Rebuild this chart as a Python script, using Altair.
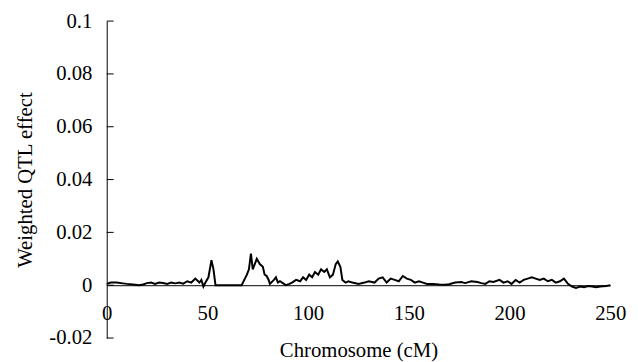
import altair as alt
import pandas as pd

cm = [0, 2, 5, 8, 10, 13, 16, 18, 20, 22, 24, 26, 28, 30, 32, 34, 36, 38, 40, 42,
      44, 46, 47, 48, 49, 50.5, 52, 53, 54, 60, 67, 67.6, 69.6, 70.6, 71.6, 72.5,
      73.5, 74.5, 76, 77.5, 78.4, 79.4, 80.4, 81, 83, 84, 85, 86, 88, 89, 90.7, 92,
      94, 96, 97.5, 99, 100.5, 102, 103.4, 105, 106.4, 108, 109.3, 110.8, 112.3,
      113.7, 114.7, 116, 117, 118.6, 120, 122, 125, 128, 130, 133, 135, 137, 139,
      141, 143, 145, 147, 149, 151, 153, 155, 157, 159, 162, 165, 168, 170, 173,
      176, 178, 181, 184, 186, 188, 190, 192, 195, 197, 199, 201, 203, 205, 207,
      209, 211, 213, 215, 217, 219, 221, 223, 225, 227, 229, 231, 233, 235, 237,
      239, 241, 243, 245, 248, 250]
effect = [0.0005, 0.001, 0.001, 0.0007, 0.0005, 0.0003, 0.0, 0.0003, 0.0008, 0.001,
          0.0005, 0.001, 0.0008, 0.0005, 0.001, 0.0007, 0.001, 0.0006, 0.0015, 0.001,
          0.0025, 0.001, 0.002, -0.0005, 0.001, 0.003, 0.0095, 0.006, 0.0, 0.0, 0.0,
          0.001, 0.004, 0.006, 0.012, 0.006, 0.008, 0.010, 0.008, 0.007, 0.004,
          0.0035, 0.002, 0.0005, 0.002, 0.003, 0.001, 0.0015, 0.0005, 0.0, 0.0005,
          0.001, 0.002, 0.0015, 0.003, 0.002, 0.004, 0.003, 0.005, 0.004, 0.006,
          0.005, 0.006, 0.003, 0.004, 0.008, 0.009, 0.007, 0.002, 0.001, 0.0015,
          0.001, 0.0005, 0.001, 0.0015, 0.001, 0.0025, 0.003, 0.001, 0.0025, 0.002,
          0.0015, 0.0035, 0.0025, 0.002, 0.001, 0.0015, 0.001, 0.0005, 0.0005,
          0.0003, 0.0002, 0.0004, 0.001, 0.0012, 0.0008, 0.0015, 0.0012, 0.0008,
          0.0005, 0.0015, 0.0012, 0.002, 0.001, 0.0015, 0.0005, 0.002, 0.001, 0.002,
          0.0025, 0.003, 0.0025, 0.002, 0.0025, 0.0015, 0.002, 0.001, 0.0015,
          0.0025, 0.0005, -0.0005, -0.001, -0.0005, -0.0008, -0.0003, -0.0005,
          -0.0008, -0.0005, -0.0003, 0.0]

y_ticks = [-0.02, 0, 0.02, 0.04, 0.06, 0.08, 0.1]
x_ticks = [0, 50, 100, 150, 200, 250]

df = pd.DataFrame({"cm": cm, "effect": effect})
tick_df = pd.DataFrame({"v": y_ticks})

FONT = "'Liberation Serif', 'Times New Roman', Times, serif"
LFS = 21
TFS = 21

x_scale = alt.Scale(domain=[0, 250], nice=False, zero=False)
y_scale = alt.Scale(domain=[-0.02, 0.1], nice=False)

line = alt.Chart(df).mark_line(color="black", strokeWidth=2).encode(
    x=alt.X("cm:Q", scale=x_scale,
            axis=alt.Axis(values=x_ticks, title="Chromosome (cM)", offset=-53.5,
                          grid=False, ticks=False, domainColor="black", domainWidth=1,
                          labelFont=FONT, labelFontSize=LFS, labelColor="black",
                          titleFont=FONT, titleFontSize=TFS, titleFontWeight="normal",
                          titleColor="black",
                          labelPadding=18, titlePadding=16, labelFlush=False)),
    y=alt.Y("effect:Q", scale=y_scale,
            axis=alt.Axis(values=y_ticks, title="Weighted QTL effect", grid=False,
                          ticks=False, domainColor="black", domainWidth=1,
                          labelFont=FONT, labelFontSize=LFS, labelColor="black",
                          titleFont=FONT, titleFontSize=TFS, titleFontWeight="normal",
                          titleColor="black",
                          labelPadding=15, titlePadding=13,
                          labelExpr="datum.value < 0 ? '-' + format(-datum.value, '.2~f') : format(datum.value, '.2~f')")),
)

ticks = alt.Chart(tick_df).mark_rule(color="black", strokeWidth=1).encode(
    x=alt.value(0), x2=alt.value(7),
    y=alt.Y("v:Q", scale=y_scale),
)

chart = alt.layer(line, ticks).properties(
    width=510, height=321,
    autosize=alt.AutoSizeParams(type="none"),
    padding={"left": 100, "top": 11, "right": 20, "bottom": 22},
).configure_view(stroke=None)

chart.save("out.html", embed_options={"renderer": "svg", "actions": False})
